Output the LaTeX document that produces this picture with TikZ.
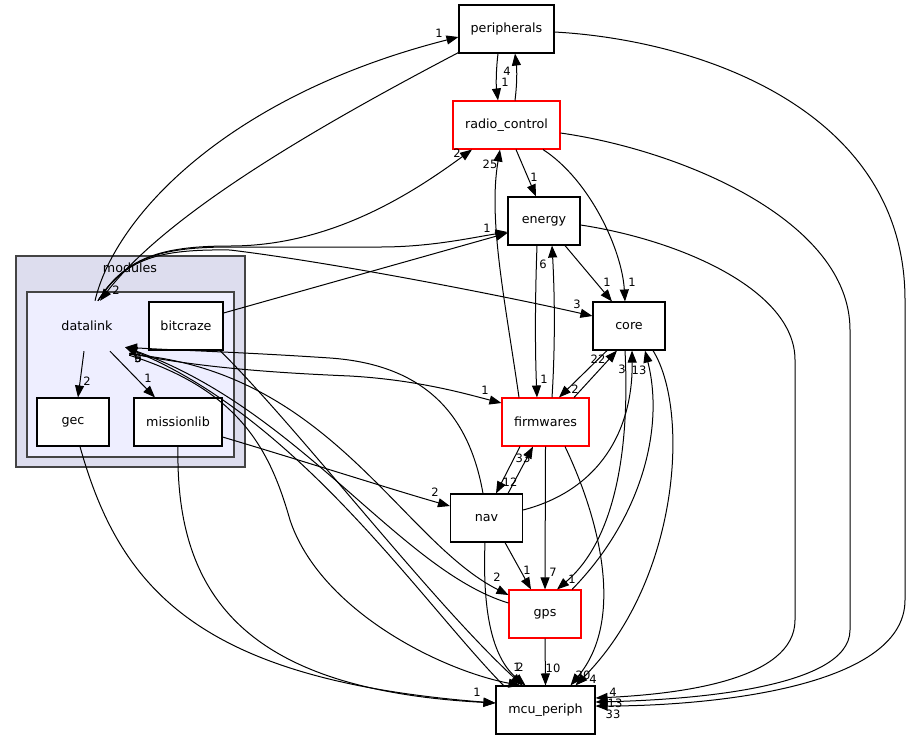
\documentclass[tikz,border=0pt]{standalone}
\usepackage{fontspec}
\setmainfont{DejaVu Sans}
\usetikzlibrary{arrows.meta}
\definecolor{clusterA}{HTML}{DDDDEE}
\definecolor{clusterB}{HTML}{EEEEFF}
\definecolor{bord}{HTML}{444444}
\begin{document}
\begin{tikzpicture}[x=1pt,y=-1pt,
  box/.style={draw=black,line width=1.1pt,fill=white,minimum height=48pt,inner sep=0pt,font=\fontsize{12.7}{15}\selectfont},
  redbox/.style={box,draw=red},
  cluster/.style={draw=bord,line width=1.2pt,inner sep=0pt},
  edge/.style={draw=black,line width=1pt,-{Triangle[length=12pt,width=9pt]}},
  lbl/.style={inner sep=0pt,font=\fontsize{11.5}{13}\selectfont},
]
\useasboundingbox[fill=white] (0,0) rectangle (909,740);
% clusters
\node[cluster,fill=clusterA,minimum width=229pt,minimum height=211pt] (modulescl) at (130.5,361.5) {};
\node[font=\fontsize{12.7}{15}\selectfont,inner sep=0pt] (moduleslbl) at (130,268) {modules};
\node[cluster,fill=clusterB,minimum width=207pt,minimum height=165pt] (datalinkcl) at (130.5,374.5) {};
\node[font=\fontsize{12.7}{15}\selectfont,inner sep=0pt,minimum width=72pt,minimum height=50pt] (datalink) at (87,326) {datalink};
% nodes
\node[box,minimum width=95pt] (periph) at (506.5,29) {peripherals};
\node[redbox,minimum width=107pt] (rc) at (506.5,125) {radio\_control};
\node[box,minimum width=72pt] (energy) at (544,221) {energy};
\node[box,minimum width=72pt] (core) at (629,326) {core};
\node[redbox,minimum width=87pt] (firm) at (545.5,422) {firmwares};
\node[box,minimum width=72pt] (nav) at (486.5,518) {nav};
\node[redbox,minimum width=72pt] (gps) at (545,614) {gps};
\node[box,minimum width=99pt] (mcu) at (545.5,710) {mcu\_periph};
\node[box,minimum width=74pt] (bitcraze) at (186,326) {bitcraze};
\node[box,minimum width=72pt] (gec) at (73,422) {gec};
\node[box,minimum width=88pt] (missionlib) at (178,422) {missionlib};

% edges from datalink top
\draw[edge] ([xshift=8pt]datalink.north) .. controls (115,215) and (230,95) .. ([yshift=-8pt]periph.west);
\draw[edge] ([yshift=1pt]periph.south west) .. controls (330,120) and (170,210) .. ([xshift=13pt]datalink.north);
\draw[edge] ([xshift=11pt]datalink.north) .. controls (125,258) and (160,246) .. (230,246) .. controls (330,246) and (410,195) .. ([xshift=-34.5pt]rc.south);
\draw[edge] ([xshift=11pt]datalink.north) .. controls (125,258) and (160,247) .. (230,247) -- (380,247) .. controls (430,247) and (470,238) .. ([yshift=-11pt]energy.west);
\draw[edge] ([xshift=11pt]datalink.north) .. controls (125,258) and (160,249) .. (230,250) .. controls (330,262) and (500,295) .. ([yshift=10pt]core.west);
% bitcraze
\draw[edge] ([yshift=13pt]bitcraze.east) -- ([yshift=-12pt]energy.west);
\draw[edge] ([xshift=34pt]bitcraze.south) .. controls (300,430) and (430,600) .. ([xshift=-23pt]mcu.north);
% datalink bottom right
\draw[edge] ([xshift=6pt,yshift=-4pt]datalink.south east) .. controls (240,390) and (270,450) .. (290,520) .. controls (320,610) and (440,670) .. ([xshift=-25pt]mcu.north);
\draw[edge] ([xshift=-42pt]mcu.north) .. controls (420,600) and (300,420) .. ([xshift=2pt,yshift=4pt]datalink.south east);
\draw[edge] ([xshift=-3.5pt]nav.north) .. controls (470,420) and (430,365) .. (330,358) .. controls (240,352) and (170,350) .. ([xshift=2pt,yshift=4pt]datalink.south east);
\draw[edge] ([yshift=11pt]gps.west) .. controls (400,570) and (300,410) .. ([xshift=2pt,yshift=4pt]datalink.south east);
\draw[edge] ([xshift=6pt,yshift=-2pt]datalink.south east) .. controls (200,368) and (280,373) .. (350,376) .. controls (420,380) and (470,395) .. ([yshift=19pt]firm.west);
\draw[edge] ([xshift=6pt,yshift=-3pt]datalink.south east) .. controls (330,370) and (400,540) .. ([yshift=19pt]gps.west);
% datalink to children
\draw[edge] ([xshift=-3pt]datalink.south) -- ([xshift=5pt]gec.north);
\draw[edge] ([xshift=23pt]datalink.south) -- ([xshift=-23pt]missionlib.north);
% gec, missionlib
\draw[edge] ([xshift=7pt]gec.south) .. controls (120,590) and (200,680) .. ([yshift=7pt]mcu.west);
\draw[edge] (missionlib.south) .. controls (175,600) and (250,690) .. ([yshift=7pt]mcu.west);
\draw[edge] ([yshift=-15pt]missionlib.east) .. controls (300,460) and (400,492) .. ([yshift=12pt]nav.west);
% peripherals / radio_control
\draw[edge] ([xshift=-8.5pt]periph.south) .. controls (496,70) and (496,85) .. ([xshift=-8.5pt]rc.north);
\draw[edge] ([xshift=8.5pt]rc.north) .. controls (517,85) and (517,70) .. ([xshift=8.5pt]periph.south);
\draw[edge] ([xshift=-26.5pt]firm.north) .. controls (505,300) and (488,220) .. ([xshift=-6.5pt]rc.south);
\draw[edge] ([xshift=9.5pt]rc.south) -- ([xshift=-8pt]energy.north);
\draw[edge] ([xshift=36.5pt]rc.south) .. controls (590,180) and (622,250) .. ([xshift=-4pt]core.north);
% energy
\draw[edge] ([xshift=21pt]energy.south) -- ([xshift=-17pt]core.north);
\draw[edge] ([xshift=-7pt]energy.south) .. controls (535,300) and (535,350) .. ([xshift=-8.5pt]firm.north);
\draw[edge] ([xshift=6.5pt]firm.north) .. controls (555,350) and (555,300) .. ([xshift=8pt]energy.south);
% firmwares / core
\draw[edge] ([xshift=28.5pt]firm.north) -- ([xshift=-12pt]core.south);
\draw[edge] ([xshift=-22pt]core.south) -- ([xshift=13.5pt]firm.north);
\draw[edge] ([xshift=21.5pt]nav.north) -- ([xshift=-12.5pt]firm.south);
\draw[edge] ([xshift=-25.5pt]firm.south) -- ([xshift=9.5pt]nav.north);
\draw[edge] ([yshift=8pt]nav.east) .. controls (600,490) and (633,430) .. ([xshift=3pt]core.south);
\draw[edge] ([xshift=-4pt]core.south) .. controls (630,450) and (615,540) .. ([xshift=12pt]gps.north);
\draw[edge] ([xshift=27pt]gps.north) .. controls (640,520) and (665,430) .. ([xshift=16pt]core.south);
\draw[edge] ([xshift=24pt]core.south) .. controls (690,410) and (680,580) .. ([xshift=30pt]mcu.north);
% to gps / mcu
\draw[edge] (firm.south) -- (gps.north);
\draw[edge] ([xshift=18.5pt]nav.south) -- ([xshift=-14pt]gps.north);
\draw[edge] ([xshift=-1.5pt]nav.south) .. controls (482,620) and (495,660) .. ([xshift=-20pt]mcu.north);
\draw[edge] ([xshift=19.5pt]firm.south) .. controls (600,520) and (625,620) .. ([xshift=25pt]mcu.north);
\draw[edge] (gps.south) -- (mcu.north);
% long right edges
\draw[edge] ([yshift=-3pt]periph.east) .. controls (700,40) and (905,110) .. (905,300) -- (905,600) .. controls (905,690) and (700,706) .. ([yshift=4pt]mcu.east);
\draw[edge] ([yshift=-8pt]rc.east) .. controls (680,150) and (850,220) .. (850,330) -- (850,630) .. controls (850,690) and (680,700) .. ([yshift=8pt]mcu.east);
\draw[edge] ([yshift=-4pt]energy.east) .. controls (680,240) and (795,290) .. (795,360) -- (795,620) .. controls (795,680) and (680,694) .. ([yshift=12pt]mcu.east);

% labels
\node[lbl] (l1) at (439,33) {1};
\node[lbl] (l2) at (116,290) {2};
\node[lbl] (l3) at (457,153) {2};
\node[lbl] (l4) at (487,228) {1};
\node[lbl] (l5) at (577,304) {3};
\node[lbl] (l6) at (138,358) {5};
\node[lbl] (l7) at (138,358) {6};
\node[lbl] (l8) at (138,358) {9};
\node[lbl] (l9) at (485,390) {1};
\node[lbl] (l10) at (497,577) {2};
\node[lbl] (l11) at (87,381) {2};
\node[lbl] (l12) at (148,378) {1};
\node[lbl] (l13) at (477,692) {1};
\node[lbl] (l14) at (435,492) {2};
\node[lbl] (l15) at (507,71) {4};
\node[lbl] (l16) at (505,82) {1};
\node[lbl] (l17) at (490,164) {25};
\node[lbl] (l18) at (534,177) {1};
\node[lbl] (l19) at (632,282) {1};
\node[lbl] (l20) at (607,282) {1};
\node[lbl] (l21) at (543,264) {6};
\node[lbl] (l22) at (544,379) {1};
\node[lbl] (l23) at (598,359) {22};
\node[lbl] (l24) at (575,389) {2};
\node[lbl] (l25) at (523,458) {33};
\node[lbl] (l26) at (510,482) {12};
\node[lbl] (l27) at (622,369) {3};
\node[lbl] (l28) at (639,370) {13};
\node[lbl] (l29) at (572,579) {1};
\node[lbl] (l30) at (553,572) {7};
\node[lbl] (l31) at (527,570) {1};
\node[lbl] (l32) at (517,667) {1};
\node[lbl] (l33) at (520,667) {2};
\node[lbl] (l34) at (553,668) {10};
\node[lbl] (l35) at (583,675) {20};
\node[lbl] (l36) at (593,679) {4};
\node[lbl] (l37) at (613,692) {4};
\node[lbl] (l38) at (615,703) {13};
\node[lbl] (l39) at (613,714) {33};
\end{tikzpicture}
\end{document}
